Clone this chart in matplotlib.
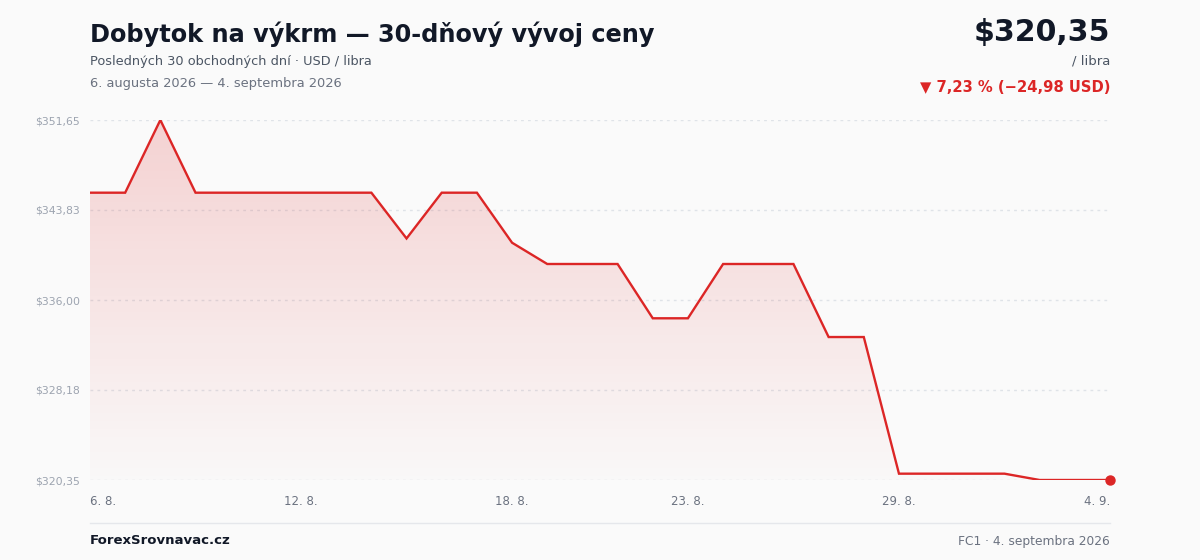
import numpy as np
import matplotlib.pyplot as plt
from matplotlib.colors import LinearSegmentedColormap
from matplotlib.patches import Polygon

# data: daily prices, 6. 8. 2026 -> 4. 9. 2026 (30 calendar days)
prices = [345.33, 345.33, 351.65, 345.33, 345.33, 345.33, 345.33, 345.33, 345.33, 341.35,
          345.33, 345.33, 340.98, 339.13, 339.13, 339.13, 334.41, 334.41, 339.13, 339.13,
          339.13, 332.78, 332.78, 320.90, 320.90, 320.90, 320.90, 320.35, 320.35, 320.35]
tick_idx = [0, 6, 12, 17, 23, 29]
tick_labels = ["6. 8.", "12. 8.", "18. 8.", "23. 8.", "29. 8.", "4. 9."]
y_ticks = [320.35, 328.18, 336.00, 343.83, 351.65]

title = "Dobytok na výkrm — 30-dňový vývoj ceny"
subtitle = "Posledných 30 obchodných dní · USD / libra"
date_range = "6. augusta 2026 — 4. septembra 2026"
last_price = "$320,35"
unit = "/ libra"
change = "▼ 7,23 % (−24,98 USD)"
brand = "ForexSrovnavac.cz"
footnote = "FC1 · 4. septembra 2026"

RED = "#dc2626"
BG = "#fafafa"
W, H = 1200, 560

plt.rcParams['font.family'] = ['DejaVu Sans']

fig = plt.figure(figsize=(12, 5.6), dpi=100, facecolor=BG)
ax = fig.add_axes([90 / W, (H - 480) / H, 1020 / W, 360 / H])
ax.set_facecolor(BG)

x = np.arange(len(prices))
ymin, ymax = min(y_ticks), max(y_ticks)
ax.set_xlim(0, len(prices) - 1)
ax.set_ylim(ymin, ymax)

# gradient fill under the line
cmap = LinearSegmentedColormap.from_list("fade", [(0.863, 0.149, 0.149, 0.01), (0.863, 0.149, 0.149, 0.19)])
grad = np.linspace(0, 1, 256).reshape(-1, 1)
im = ax.imshow(grad, extent=[0, len(prices) - 1, ymin, ymax], origin='lower',
               aspect='auto', cmap=cmap, zorder=1)
verts = [(0, ymin)] + list(zip(x, prices)) + [(len(prices) - 1, ymin)]
poly = Polygon(verts, closed=True, facecolor='none', edgecolor='none')
ax.add_patch(poly)
im.set_clip_path(poly)

for yv in y_ticks:
    ax.axhline(yv, color="#dfe3e8", lw=1, ls=(0, (2, 3)), zorder=0)

ax.plot(x, prices, color=RED, lw=1.7, zorder=3, solid_joinstyle='miter')
ax.plot(x[-1], prices[-1], 'o', color=RED, ms=6.5, zorder=4, clip_on=False)

for s in ax.spines.values():
    s.set_visible(False)

ax.set_yticks(y_ticks)
ax.set_yticklabels(["$" + f"{v:.2f}".replace(".", ",") for v in y_ticks])
ax.tick_params(axis='y', length=0, pad=7, labelsize=7.8, labelcolor="#9ca3af")
ax.set_xticks(tick_idx)
ax.set_xticklabels(tick_labels)
ax.tick_params(axis='x', length=0, pad=11, labelsize=8.5, labelcolor="#6b7280")
xt = ax.get_xticklabels()
xt[0].set_ha('left')
xt[-1].set_ha('right')

# header
fig.text(90 / W, 1 - 34 / H, title, fontsize=17.3, fontweight='bold', color="#111827", va='center')
fig.text(90 / W, 1 - 61 / H, subtitle, fontsize=9.3, color="#4b5563", va='center')
fig.text(90 / W, 1 - 84 / H, date_range, fontsize=9.4, color="#6b7280", va='center')
fig.text(1110 / W, 1 - 33 / H, last_price, fontsize=21.6, fontweight='bold', color="#111827",
         va='center', ha='right')
fig.text(1110 / W, 1 - 61 / H, unit, fontsize=9.5, color="#4b5563", va='center', ha='right')
fig.text(1110 / W, 1 - 87 / H, change, fontsize=10.6, fontweight='bold', color=RED,
         va='center', ha='right')

# footer
fig.add_artist(plt.Line2D([90 / W, 1110 / W], [1 - 523 / H, 1 - 523 / H], color="#e5e7eb", lw=1))
fig.text(90 / W, 1 - 541 / H, brand, fontsize=9.5, fontweight='bold', color="#111827", va='center')
fig.text(1110 / W, 1 - 541 / H, footnote, fontsize=8.8, color="#6b7280", va='center', ha='right')

fig.savefig("out.png", dpi=100, facecolor=BG)
